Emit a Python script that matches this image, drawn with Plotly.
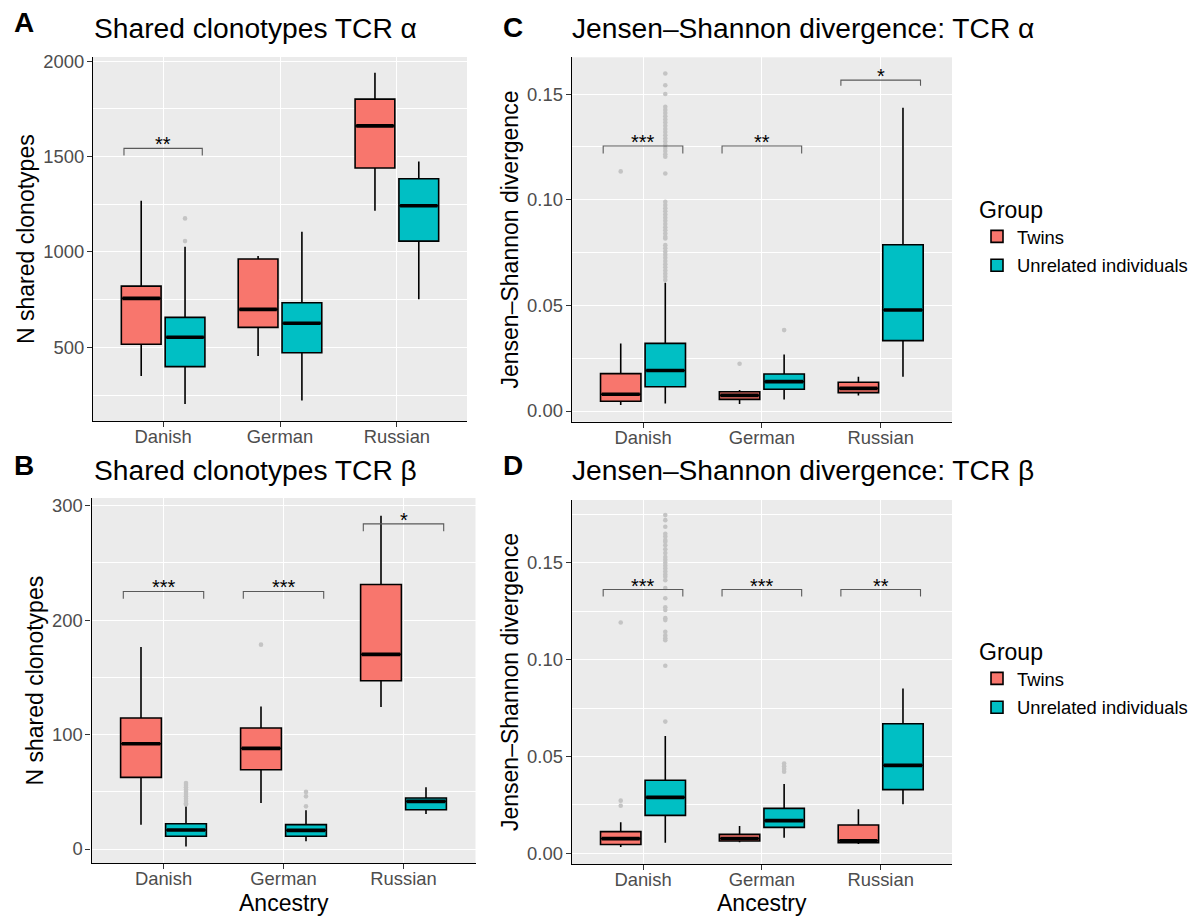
import plotly.graph_objects as go

# ---------------- data ----------------
categories = ["Danish", "German", "Russian"]
cat_pos = [0, 1, 2]
groups = ["Twins", "Unrelated individuals"]
group_colors = ["#F8766D", "#00BFC4"]

# Panel A: shared clonotypes TCR alpha
A_twins_lo = [350, 455, 1216]
A_twins_q1 = [516, 605, 1440]
A_twins_med = [757, 699, 1661]
A_twins_q3 = [821, 963, 1801]
A_twins_hi = [1268, 979, 1939]
A_twins_out = [[], [], []]
A_unrel_lo = [203, 221, 752]
A_unrel_q1 = [399, 472, 1057]
A_unrel_med = [553, 626, 1242]
A_unrel_q3 = [657, 734, 1384]
A_unrel_hi = [1027, 1106, 1474]
A_unrel_out = [[1176, 1057], [], []]
A_sig_cats = [0]
A_sig_labels = ["**"]
A_sig_bar = [1543]
A_sig_tip = [1506]

# Panel B: shared clonotypes TCR beta
B_twins_lo = [21.2, 40.2, 124]
B_twins_q1 = [62.6, 69.3, 147]
B_twins_med = [92, 87.9, 170]
B_twins_q3 = [114.4, 105.7, 231]
B_twins_hi = [176.5, 124.6, 291]
B_twins_out = [[], [178.5], []]
B_unrel_lo = [2.3, 6.7, 30.6]
B_unrel_q1 = [11.1, 11.1, 34.3]
B_unrel_med = [16.6, 16.3, 41.6]
B_unrel_q3 = [22.1, 21.3, 44.6]
B_unrel_hi = [37.3, 33.8, 54]
B_unrel_out = [[57.7, 56, 54, 52, 50, 48, 46, 44, 42, 40, 39], [49.9, 46, 37.3], []]
B_sig_cats = [0, 1, 2]
B_sig_labels = ["***", "***", "*"]
B_sig_bar = [225, 225, 284]
B_sig_tip = [218.7, 218.7, 277.6]

# Panel C: Jensen-Shannon divergence TCR alpha
C_twins_lo = [0.0028, 0.0033, 0.0073]
C_twins_q1 = [0.0046, 0.0055, 0.0087]
C_twins_med = [0.0079, 0.0074, 0.0107]
C_twins_q3 = [0.0177, 0.0091, 0.0136]
C_twins_hi = [0.0320, 0.0099, 0.0162]
C_twins_out = [[0.1134], [0.0224], []]
C_unrel_lo = [0.0036, 0.0055, 0.0162]
C_unrel_q1 = [0.0115, 0.0103, 0.0333]
C_unrel_med = [0.0192, 0.0139, 0.0478]
C_unrel_q3 = [0.0320, 0.0175, 0.0787]
C_unrel_hi = [0.0607, 0.0267, 0.1435]
C_unrel_out = [[0.1597, 0.1542, 0.1500, 0.1440, 0.1425, 0.1410, 0.1395, 0.1380, 0.1365,
                0.1350, 0.1335, 0.1320, 0.1305, 0.1290, 0.1275, 0.1260, 0.1245, 0.1230,
                0.1215, 0.1203, 0.1124, 0.0990, 0.0975, 0.0960, 0.0945, 0.0930, 0.0915,
                0.0900, 0.0885, 0.0870, 0.0855, 0.0840, 0.0825, 0.0817, 0.0785, 0.0770,
                0.0755, 0.0740, 0.0725, 0.0710, 0.0695, 0.0680, 0.0665, 0.0650, 0.0635,
                0.0620], [0.0383], []]
C_sig_cats = [0, 1, 2]
C_sig_labels = ["***", "**", "*"]
C_sig_bar = [0.1254, 0.1254, 0.1566]
C_sig_tip = [0.1219, 0.1219, 0.1539]

# Panel D: Jensen-Shannon divergence TCR beta
D_twins_lo = [0.0033, 0.0057, 0.0048]
D_twins_q1 = [0.0046, 0.0064, 0.0055]
D_twins_med = [0.0076, 0.0077, 0.0065]
D_twins_q3 = [0.0112, 0.0098, 0.0146]
D_twins_hi = [0.0160, 0.0141, 0.0227]
D_twins_out = [[0.0272, 0.0246, 0.1192], [], []]
D_unrel_lo = [0.0055, 0.0081, 0.0253]
D_unrel_q1 = [0.0196, 0.0134, 0.0329]
D_unrel_med = [0.0289, 0.0169, 0.0454]
D_unrel_q3 = [0.0377, 0.0232, 0.0669]
D_unrel_hi = [0.0606, 0.0358, 0.0851]
D_unrel_out = [[0.1746, 0.1720, 0.1686, 0.1650, 0.1635, 0.1617, 0.1608, 0.1590, 0.1570,
                0.1550, 0.1530, 0.1515, 0.1500, 0.1485, 0.1470, 0.1455, 0.1440, 0.1428,
                0.1410, 0.1370, 0.1317, 0.1270, 0.1256, 0.1214, 0.1204, 0.1144, 0.1125,
                0.1110, 0.1100, 0.0968, 0.0680], [0.0464, 0.0450, 0.0435, 0.0421], []]
D_sig_cats = [0, 1, 2]
D_sig_labels = ["***", "***", "**"]
D_sig_bar = [0.1362, 0.1362, 0.1362]
D_sig_tip = [0.1326, 0.1326, 0.1326]

# axis ticks
A_ticks = [500, 1000, 1500, 2000]
A_minor = [250, 750, 1250, 1750]
B_ticks = [0, 100, 200, 300]
B_minor = [50, 150, 250]
C_ticks = [0.00, 0.05, 0.10, 0.15]
C_minor = [0.025, 0.075, 0.125]
D_ticks = [0.00, 0.05, 0.10, 0.15]
D_minor = [0.025, 0.075, 0.125, 0.175]

titles = ["Shared clonotypes TCR α", "Shared clonotypes TCR β",
          "Jensen–Shannon divergence: TCR α", "Jensen–Shannon divergence: TCR β"]
ytitles = ["N shared clonotypes", "N shared clonotypes",
           "Jensen–Shannon divergence", "Jensen–Shannon divergence"]
letters = ["A", "B", "C", "D"]

# ---------------- layout geometry (pixels) ----------------
W, H = 1196, 916
def px(x):
    return x / W
def py(y):
    return 1 - y / H

panels = {
    "A": dict(x0=93, x1=467, y0=57, y1=421, yr=[114, 2022]),
    "B": dict(x0=91.5, x1=475.5, y0=498, y1=863, yr=[-12.2, 306.6]),
    "C": dict(x0=571.7, x1=952, y0=57.3, y1=421.7, yr=[-0.00506, 0.1674]),
    "D": dict(x0=571.7, x1=952, y0=500, y1=864, yr=[-0.0055, 0.1824]),
}

DODGE = 0.1875
BOXW = 0.34
BR = 0.335

fig = go.Figure()

data = {
    "A": [(A_twins_lo, A_twins_q1, A_twins_med, A_twins_q3, A_twins_hi, A_twins_out),
          (A_unrel_lo, A_unrel_q1, A_unrel_med, A_unrel_q3, A_unrel_hi, A_unrel_out),
          (A_sig_cats, A_sig_labels, A_sig_bar, A_sig_tip), A_ticks, A_minor],
    "B": [(B_twins_lo, B_twins_q1, B_twins_med, B_twins_q3, B_twins_hi, B_twins_out),
          (B_unrel_lo, B_unrel_q1, B_unrel_med, B_unrel_q3, B_unrel_hi, B_unrel_out),
          (B_sig_cats, B_sig_labels, B_sig_bar, B_sig_tip), B_ticks, B_minor],
    "C": [(C_twins_lo, C_twins_q1, C_twins_med, C_twins_q3, C_twins_hi, C_twins_out),
          (C_unrel_lo, C_unrel_q1, C_unrel_med, C_unrel_q3, C_unrel_hi, C_unrel_out),
          (C_sig_cats, C_sig_labels, C_sig_bar, C_sig_tip), C_ticks, C_minor],
    "D": [(D_twins_lo, D_twins_q1, D_twins_med, D_twins_q3, D_twins_hi, D_twins_out),
          (D_unrel_lo, D_unrel_q1, D_unrel_med, D_unrel_q3, D_unrel_hi, D_unrel_out),
          (D_sig_cats, D_sig_labels, D_sig_bar, D_sig_tip), D_ticks, D_minor],
}

FONT = "Liberation Sans, Arial, Helvetica, sans-serif"
annotations = []
layout_axes = {}

for i, key in enumerate(["A", "B", "C", "D"]):
    n = i + 1
    xa = "x" if n == 1 else f"x{n}"
    ya = "y" if n == 1 else f"y{n}"
    p = panels[key]
    grp_data = data[key]
    for g in range(2):
        lo, q1, med, q3, hi, out = grp_data[g]
        off = -DODGE if g == 0 else DODGE
        xs = [c + off for c in cat_pos]
        legend_name = None
        show = False
        if key == "C":
            show, legend_name = True, "legend"
        elif key == "D":
            show, legend_name = True, "legend2"
        tr = dict(
            x=xs, q1=q1, median=med, q3=q3, lowerfence=lo, upperfence=hi,
            width=BOXW, name=groups[g], fillcolor=group_colors[g],
            line=dict(color="black", width=1.6), whiskerwidth=0,
            boxpoints=False, xaxis=xa, yaxis=ya, showlegend=show,
            legendgroup=groups[g], hoverinfo="skip",
        )
        if legend_name:
            tr["legend"] = legend_name
        fig.add_trace(go.Box(**tr))
        # thick median line (ggplot fatten)
        mx, my = [], []
        for c, m in zip(cat_pos, med):
            mx += [c + off - BOXW / 2 + 0.01, c + off + BOXW / 2 - 0.01, None]
            my += [m, m, None]
        fig.add_trace(go.Scatter(x=mx, y=my, mode="lines", line=dict(color="black", width=3.6),
                                 xaxis=xa, yaxis=ya, showlegend=False, hoverinfo="skip"))
        # outliers
        ox, oy = [], []
        for c, vals in zip(cat_pos, out):
            for v in vals:
                ox.append(c + off)
                oy.append(v)
        if ox:
            fig.add_trace(go.Scatter(x=ox, y=oy, mode="markers",
                                     marker=dict(color="#C4C4C4", size=4.6, line=dict(width=0)),
                                     xaxis=xa, yaxis=ya, showlegend=False, hoverinfo="skip"))
    # significance brackets
    cats, labels, bars, tips = grp_data[2]
    bx, by = [], []
    for c, lab, b, t in zip(cats, labels, bars, tips):
        bx += [c - BR, c - BR, c + BR, c + BR, None]
        by += [t, b, b, t, None]
        annotations.append(dict(x=c, y=b, xref=xa, yref=ya, text=lab, showarrow=False,
                                yanchor="middle", yshift=4,
                                font=dict(family=FONT, size=20, color="black")))
    fig.add_trace(go.Scatter(x=bx, y=by, mode="lines", line=dict(color="#5A5A5A", width=1.1),
                             xaxis=xa, yaxis=ya, showlegend=False, hoverinfo="skip"))

    ticks, minor = grp_data[3], grp_data[4]
    is_js = key in ("C", "D")
    xname = "xaxis" if n == 1 else f"xaxis{n}"
    yname = "yaxis" if n == 1 else f"yaxis{n}"
    layout_axes[xname] = dict(
        domain=[px(p["x0"]), px(p["x1"])], anchor=ya, range=[-0.6, 2.6],
        tickmode="array", tickvals=cat_pos, ticktext=categories,
        showgrid=True, gridcolor="white", gridwidth=1.3, zeroline=False,
        showline=True, linecolor="black", linewidth=1.3,
        ticks="outside", ticklen=5, tickwidth=1.2, tickcolor="#333333",
        tickfont=dict(family=FONT, size=18.4, color="#4D4D4D"),
        ticklabelstandoff=-6, fixedrange=True,
    )
    layout_axes[yname] = dict(
        domain=[py(p["y1"]), py(p["y0"])], anchor=xa, range=p["yr"],
        tickmode="array", tickvals=ticks,
        ticktext=[f"{t:.2f}" for t in ticks] if is_js else [str(t) for t in ticks],
        showgrid=True, gridcolor="white", gridwidth=1.3, zeroline=False,
        showline=True, linecolor="black", linewidth=1.3,
        ticks="outside", ticklen=5, tickwidth=1.2, tickcolor="#333333",
        tickfont=dict(family=FONT, size=18.4, color="#4D4D4D"),
        ticklabelstandoff=-1, fixedrange=True,
        minor=dict(tickvals=minor, showgrid=True, gridcolor="white", gridwidth=0.6, ticks=""),
    )

    # panel letter + title
    lx = 12 if key in ("A", "B") else 501
    ly = 23 if key == "A" else (28 if key == "C" else 465)
    annotations.append(dict(x=px(lx), y=py(ly), xref="paper", yref="paper", text=f"<b>{letters[i]}</b>",
                            showarrow=False, xanchor="left", yanchor="middle",
                            font=dict(family=FONT, size=28, color="black")))
    tx = 92 if key in ("A", "B") else 570
    ty = 28 if key in ("A", "C") else 470
    annotations.append(dict(x=px(tx), y=py(ty), xref="paper", yref="paper", text=titles[i],
                            showarrow=False, xanchor="left", yanchor="middle",
                            font=dict(family=FONT, size=28.2, color="black")))
    # y axis title
    yx = {"A": 26, "B": 34, "C": 510, "D": 510}[key]
    annotations.append(dict(x=px(yx), y=py((p["y0"] + p["y1"]) / 2), xref="paper", yref="paper",
                            text=ytitles[i], textangle=-90, showarrow=False,
                            xanchor="center", yanchor="middle",
                            font=dict(family=FONT, size=23, color="black")))

# x axis titles (bottom row)
for key in ("B", "D"):
    p = panels[key]
    annotations.append(dict(x=px((p["x0"] + p["x1"]) / 2), y=py(903), xref="paper", yref="paper",
                            text="Ancestry", showarrow=False, xanchor="center", yanchor="middle",
                            font=dict(family=FONT, size=23, color="black")))

legend_common = dict(xanchor="left", yanchor="top", bgcolor="rgba(0,0,0,0)",
                     font=dict(family=FONT, size=18.4, color="black"),
                     title=dict(text="Group", font=dict(family=FONT, size=23, color="black")),
                     tracegroupgap=2, itemclick=False, itemdoubleclick=False)

fig.update_layout(
    width=W, height=H, margin=dict(l=0, r=0, t=0, b=0, autoexpand=False),
    paper_bgcolor="white", plot_bgcolor="#EBEBEB",
    font=dict(family=FONT, color="black"),
    boxmode="overlay",
    annotations=annotations,
    legend=dict(x=px(977), y=py(188), **legend_common),
    legend2=dict(x=px(977), y=py(630), **legend_common),
    **layout_axes,
)

fig.write_html("out.html", config={"displayModeBar": False},
               post_script="document.body.style.margin='0';")
